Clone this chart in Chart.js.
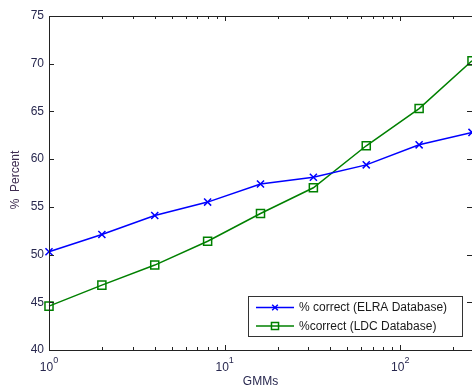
<!DOCTYPE html>
<html>
<head>
<meta charset="utf-8">
<script src="https://cdn.jsdelivr.net/npm/chart.js@4"></script>
<style>
  html, body { margin: 0; padding: 0; background: #fff; overflow: hidden; }
  #wrap { width: 472px; height: 388px; }
</style>
</head>
<body>
<div id="wrap"><canvas id="chart" width="472" height="388"></canvas></div>
<script>
// GMM counts (x axis, log scale)
const gmms = [1, 2, 4, 8, 16, 32, 64, 128, 256];
// % correct per database
const elraValues = [50.3, 52.1, 54.1, 55.5, 57.4, 58.1, 59.4, 61.5, 62.8];
const ldcValues = [44.6, 46.8, 48.9, 51.4, 54.3, 57.0, 61.4, 65.3, 70.3];
const yTicks = [40, 45, 50, 55, 60, 65, 70, 75];
const xMajorTicks = [1, 10, 100];
const xMinorTicks = [2, 3, 4, 5, 6, 7, 8, 9, 20, 30, 40, 50, 60, 70, 80, 90, 200];
const seriesNames = ['% correct (ELRA Database)', '%correct (LDC Database)'];

const FONT = '"Liberation Sans", Arial, sans-serif';
const LABEL_COLOR = '#28284f';

// Axes box, inward ticks, log tick labels, axis titles and the legend box
const matlabAxes = {
    id: 'matlabAxes',
    afterDraw(chart) {
        const ctx = chart.ctx;
        const area = chart.chartArea;
        const xs = chart.scales.x;
        const ys = chart.scales.y;
        ctx.save();
        ctx.strokeStyle = '#222';
        ctx.lineWidth = 1;

        // box (right edge falls just outside the picture)
        const l = Math.round(area.left) + 0.5, t = Math.round(area.top) + 0.5;
        const b = Math.round(area.bottom) + 0.5;
        ctx.beginPath();
        ctx.moveTo(area.right + 2, t); ctx.lineTo(l, t); ctx.lineTo(l, b); ctx.lineTo(area.right + 2, b);
        ctx.stroke();

        ctx.beginPath();
        yTicks.forEach(v => {
            const y = Math.round(ys.getPixelForValue(v)) + 0.5;
            ctx.moveTo(area.left, y); ctx.lineTo(area.left + 5, y);
            ctx.moveTo(area.right, y); ctx.lineTo(area.right - 5, y);
        });
        xMajorTicks.forEach(v => {
            const x = Math.round(xs.getPixelForValue(v)) + 0.5;
            ctx.moveTo(x, area.bottom); ctx.lineTo(x, area.bottom - 5);
            ctx.moveTo(x, area.top); ctx.lineTo(x, area.top + 5);
        });
        xMinorTicks.forEach(v => {
            const x = Math.round(xs.getPixelForValue(v)) + 0.5;
            ctx.moveTo(x, area.bottom); ctx.lineTo(x, area.bottom - 3);
            ctx.moveTo(x, area.top); ctx.lineTo(x, area.top + 3);
        });
        ctx.stroke();

        // x tick labels as 10^n
        ctx.fillStyle = LABEL_COLOR;
        ctx.textBaseline = 'alphabetic';
        ctx.textAlign = 'left';
        xMajorTicks.forEach(v => {
            const x = xs.getPixelForValue(v);
            const exp = String(Math.round(Math.log10(v)));
            ctx.font = '12px ' + FONT;
            const w1 = ctx.measureText('10').width;
            ctx.font = '9px ' + FONT;
            const w2 = ctx.measureText(exp).width;
            const start = x - (w1 + w2) / 2;
            ctx.font = '12px ' + FONT;
            ctx.fillText('10', start, 371);
            ctx.font = '9px ' + FONT;
            ctx.fillText(exp, start + w1, 363);
        });

        // axis titles
        ctx.font = '12px ' + FONT;
        ctx.textAlign = 'center';
        ctx.textBaseline = 'middle';
        ctx.fillStyle = LABEL_COLOR;
        ctx.fillText('GMMs', (area.left + area.right) / 2, 382);
        ctx.save();
        ctx.translate(16, 180);
        ctx.rotate(-Math.PI / 2);
        ctx.fillStyle = '#3e2c50';
        ctx.fillText('%  Percent', 0, 0);
        ctx.restore();

        // legend
        const lx = 248, ly = 296, lw = 214, lh = 40;
        ctx.fillStyle = '#fff';
        ctx.fillRect(lx, ly, lw, lh);
        ctx.strokeStyle = '#333';
        ctx.strokeRect(lx + 0.5, ly + 0.5, lw, lh);
        const rows = [
            { y: 307.5, color: '#0000ff', style: 'crossRot', r: 4 },
            { y: 326, color: '#008000', style: 'rect', r: 5 }
        ];
        rows.forEach((r, i) => {
            ctx.strokeStyle = r.color;
            ctx.lineWidth = 1.5;
            ctx.beginPath();
            ctx.moveTo(256, r.y); ctx.lineTo(294, r.y);
            ctx.stroke();
            ctx.fillStyle = 'rgba(0,0,0,0)';
            Chart.helpers.drawPoint(ctx, { pointStyle: r.style, radius: r.r, borderWidth: 1.5 }, 275, r.y);
            ctx.fillStyle = '#1a1a1a';
            ctx.font = '12px ' + FONT;
            ctx.textAlign = 'left';
            ctx.textBaseline = 'middle';
            ctx.fillText(seriesNames[i], 299, r.y + 0.5);
        });
        ctx.restore();
    }
};

new Chart(document.getElementById('chart'), {
    type: 'line',
    data: {
        datasets: [
            {
                label: seriesNames[0],
                data: gmms.map((g, i) => ({ x: g, y: elraValues[i] })),
                borderColor: '#0000ff',
                backgroundColor: 'transparent',
                borderWidth: 1.5,
                pointStyle: 'crossRot',
                pointRadius: 5,
                pointBorderWidth: 1.5,
                pointBorderColor: '#0000ff',
                tension: 0,
                clip: false
            },
            {
                label: seriesNames[1],
                data: gmms.map((g, i) => ({ x: g, y: ldcValues[i] })),
                borderColor: '#008000',
                backgroundColor: 'transparent',
                borderWidth: 1.5,
                pointStyle: 'rect',
                pointRadius: 5.7,
                pointBorderWidth: 1.5,
                pointBorderColor: '#008000',
                pointBackgroundColor: 'transparent',
                tension: 0,
                clip: false
            }
        ]
    },
    options: {
        responsive: false,
        animation: false,
        devicePixelRatio: 1,
        layout: { autoPadding: false, padding: { top: 16, right: 0, left: 0, bottom: 0 } },
        plugins: {
            legend: { display: false },
            tooltip: { enabled: false }
        },
        scales: {
            x: {
                type: 'logarithmic',
                min: 1,
                max: 256,
                grid: { display: false, drawTicks: false },
                border: { display: false },
                ticks: { display: false },
                afterFit: scale => { scale.height = 38; }
            },
            y: {
                min: 40,
                max: 75,
                grid: { display: false, drawTicks: false },
                border: { display: false },
                afterBuildTicks: scale => { scale.ticks = yTicks.map(v => ({ value: v })); },
                ticks: {
                    padding: 5,
                    color: LABEL_COLOR,
                    font: { family: FONT, size: 12 }
                },
                afterFit: scale => { scale.width = 49; }
            }
        }
    },
    plugins: [matlabAxes]
});
</script>
</body>
</html>
